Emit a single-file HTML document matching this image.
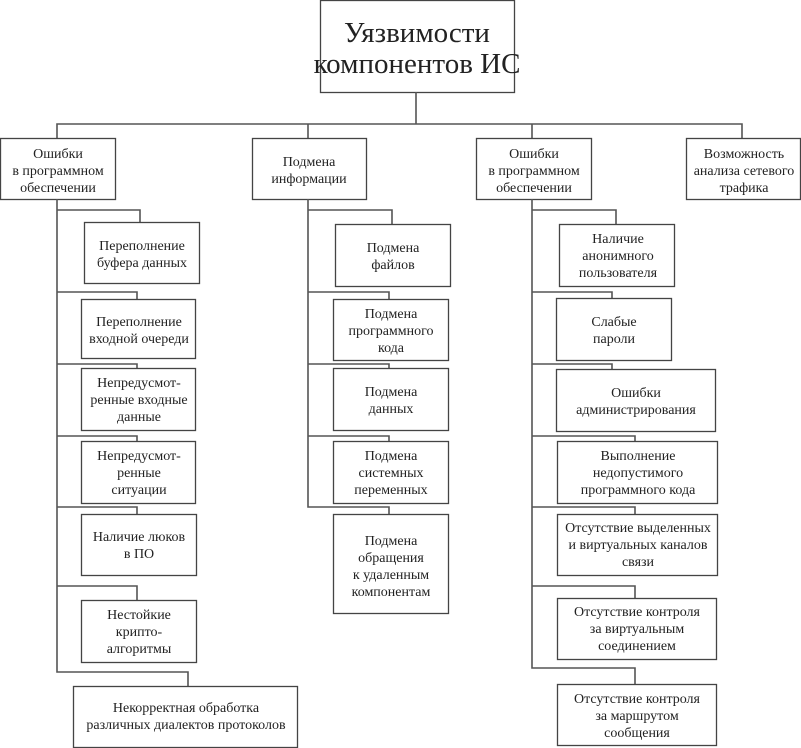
<!DOCTYPE html>
<html><head><meta charset="utf-8"><style>
html,body{margin:0;padding:0;background:#fff;}
svg{display:block;}
text{font-family:"Liberation Serif","DejaVu Serif",serif;font-size:14px;fill:#222;text-anchor:middle;}
.b{fill:#fff;stroke:#444;stroke-width:1.3;}
.l{fill:none;stroke:#555;stroke-width:1.6;}
</style></head><body>
<svg width="801" height="748" viewBox="0 0 801 748" xmlns="http://www.w3.org/2000/svg">
<!-- root -->
<rect class="b" x="320.5" y="0.5" width="194" height="92"/>
<text x="417" y="42" style="font-size:29px">Уязвимости</text>
<text x="417" y="73" style="font-size:29px">компонентов ИС</text>
<path class="l" d="M416 92V124M57 138V124H742V138M308 124V138M532 124V138"/>
<!-- level 1 -->
<rect class="b" x="0.5" y="138.5" width="115" height="61"/>
<text x="58" y="158">Ошибки</text><text x="58" y="175">в программном</text><text x="58" y="192">обеспечении</text>
<rect class="b" x="252.5" y="138.5" width="114" height="61"/>
<text x="309" y="166">Подмена</text><text x="309" y="183">информации</text>
<rect class="b" x="476.5" y="138.5" width="115" height="61"/>
<text x="534" y="158">Ошибки</text><text x="534" y="175">в программном</text><text x="534" y="192">обеспечении</text>
<rect class="b" x="686.5" y="138.5" width="114" height="61"/>
<text x="744" y="158">Возможность</text><text x="744" y="175">анализа сетевого</text><text x="744" y="192">трафика</text>
<!-- left trunk -->
<path class="l" d="M57 199V672H188V686M57 210H140V222M57 292H137V299M57 364H137V368M57 436H137V441M57 507H137V514M57 586H137V600"/>
<rect class="b" x="84.5" y="222.5" width="115" height="61"/>
<text x="142" y="250">Переполнение</text><text x="142" y="267">буфера данных</text>
<rect class="b" x="81.5" y="299.5" width="114" height="59"/>
<text x="139" y="326">Переполнение</text><text x="139" y="343">входной очереди</text>
<rect class="b" x="81.5" y="368.5" width="114" height="62"/>
<text x="139" y="387">Непредусмот-</text><text x="139" y="404">ренные входные</text><text x="139" y="421">данные</text>
<rect class="b" x="81.5" y="441.5" width="114" height="62"/>
<text x="139" y="460">Непредусмот-</text><text x="139" y="477">ренные</text><text x="139" y="494">ситуации</text>
<rect class="b" x="81.5" y="514.5" width="115" height="61"/>
<text x="139" y="541">Наличие люков</text><text x="139" y="558">в ПО</text>
<rect class="b" x="81.5" y="600.5" width="115" height="62"/>
<text x="139" y="619">Нестойкие</text><text x="139" y="636">крипто-</text><text x="139" y="653">алгоритмы</text>
<rect class="b" x="73.5" y="686.5" width="224" height="61"/>
<text x="186" y="712">Некорректная обработка</text><text x="186" y="729">различных диалектов протоколов</text>
<!-- middle -->
<path class="l" d="M308 199V507H389V514M308 210H392V224M308 292H389V299M308 364H389V368M308 436H389V441"/>
<rect class="b" x="335.5" y="224.5" width="115" height="62"/>
<text x="393" y="252">Подмена</text><text x="393" y="269">файлов</text>
<rect class="b" x="333.5" y="299.5" width="115" height="61"/>
<text x="391" y="318">Подмена</text><text x="391" y="335">программного</text><text x="391" y="352">кода</text>
<rect class="b" x="333.5" y="368.5" width="115" height="62"/>
<text x="391" y="396">Подмена</text><text x="391" y="413">данных</text>
<rect class="b" x="333.5" y="441.5" width="115" height="62"/>
<text x="391" y="460">Подмена</text><text x="391" y="477">системных</text><text x="391" y="494">переменных</text>
<rect class="b" x="333.5" y="514.5" width="115" height="99"/>
<text x="391" y="545">Подмена</text><text x="391" y="562">обращения</text><text x="391" y="579">к удаленным</text><text x="391" y="596">компонентам</text>
<!-- right -->
<path class="l" d="M532 199V668H635V684M532 210H616V224M532 292H612V298M532 364H612V369M532 436H635V441M532 507H635V514M532 586H635V598"/>
<rect class="b" x="559.5" y="224.5" width="115" height="62"/>
<text x="618" y="243">Наличие</text><text x="618" y="260">анонимного</text><text x="618" y="277">пользователя</text>
<rect class="b" x="556.5" y="298.5" width="115" height="62"/>
<text x="614" y="326">Слабые</text><text x="614" y="343">пароли</text>
<rect class="b" x="556.5" y="369.5" width="159" height="62"/>
<text x="636" y="397">Ошибки</text><text x="636" y="414">администрирования</text>
<rect class="b" x="557.5" y="441.5" width="160" height="62"/>
<text x="638" y="460">Выполнение</text><text x="638" y="477">недопустимого</text><text x="638" y="494">программного кода</text>
<rect class="b" x="557.5" y="514.5" width="160" height="61"/>
<text x="638" y="532">Отсутствие выделенных</text><text x="638" y="549">и виртуальных каналов</text><text x="638" y="566">связи</text>
<rect class="b" x="557.5" y="598.5" width="159" height="61"/>
<text x="637" y="616">Отсутствие контроля</text><text x="637" y="633">за виртуальным</text><text x="637" y="650">соединением</text>
<rect class="b" x="557.5" y="684.5" width="159" height="61"/>
<text x="637" y="703">Отсутствие контроля</text><text x="637" y="720">за маршрутом</text><text x="637" y="737">сообщения</text>
</svg>
</body></html>
